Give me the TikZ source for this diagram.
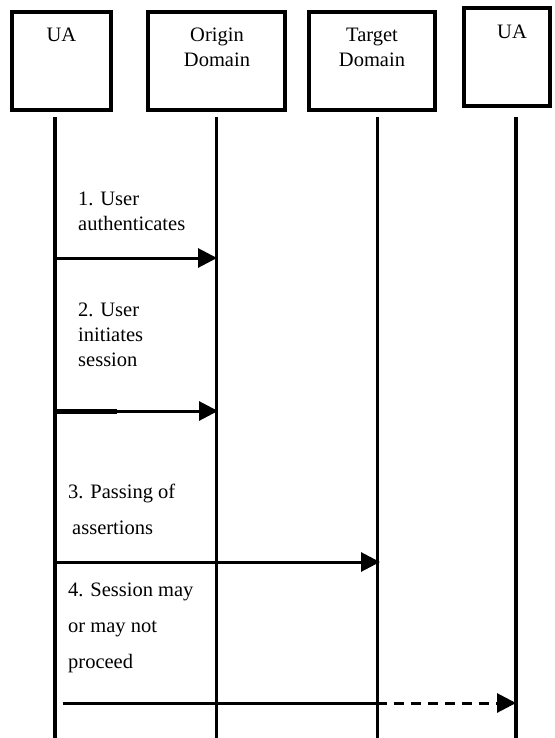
\documentclass[tikz,border=0pt]{standalone}
\usepackage{fontspec}
\setmainfont{Liberation Serif}
\usetikzlibrary{arrows.meta}
\newcommand{\fs}{\fontsize{20.5}{25}\selectfont}
\newcommand{\fw}{\fontsize{20.5}{36}\selectfont}

\begin{document}
\begin{tikzpicture}[x=1pt, y=-1pt,
    head/.style={draw, rectangle, line width=4pt, inner sep=0pt, minimum height=98pt},
    title/.style={anchor=north, align=center, inner sep=0pt, font=\fs},
    msgtext/.style={anchor=north west, align=left, inner sep=0pt, font=\fs},
    msgwide/.style={anchor=north west, align=left, inner sep=0pt, font=\fw},
    life/.style={line width=3pt},
    msg/.style={line width=3pt, -{Triangle[length=19pt, width=19pt]}}]
    \useasboundingbox (0,0) rectangle (554,738);

    % Header boxes
    \node[head, minimum width=99pt] (ua-left) at (61.5,61) {};
    \node[head, minimum width=137pt] (origin) at (216.5,61) {};
    \node[head, minimum width=126pt] (target) at (372,61) {};
    \node[head, minimum width=86pt] (ua-right) at (507,57) {};

    \node[title] (ua-left-text) at (61.5,28) {UA};
    \node[title] (origin-text) at (217,28) {Origin\\Domain};
    \node[title] (target-text) at (372,28) {Target\\Domain};
    \node[title] (ua-right-text) at (512,25) {UA};

    % Lifelines
    \coordinate (ua-left-top) at (55,117);
    \coordinate (ua-left-bot) at (55,738);
    \coordinate (origin-top) at (216,117);
    \coordinate (origin-bot) at (216,738);
    \coordinate (target-top) at (377,117);
    \coordinate (target-bot) at (377,738);
    \coordinate (ua-right-top) at (516,117);
    \coordinate (ua-right-bot) at (516,738);

    \draw[life, line width=4pt] (ua-left-top) -- (ua-left-bot);
    \draw[life] (origin-top) -- (origin-bot);
    \draw[life] (target-top) -- (target-bot);
    \draw[life, line width=4pt] (ua-right-top) -- (ua-right-bot);

    % Messages
    \coordinate (m1-from) at (55,258);
    \coordinate (m1-to) at (217,258);
    \coordinate (m2-from) at (55,411);
    \coordinate (m2-mid) at (117,411);
    \coordinate (m2-to) at (218,411);
    \coordinate (m3-from) at (55,562);
    \coordinate (m3-to) at (380,562);
    \coordinate (m4-from) at (63,703);
    \coordinate (m4-mid) at (377,703);
    \coordinate (m4-to) at (516,703);

    \node[msgtext] (m1-text) at (78,192) {1. User\\authenticates};
    \draw[msg] (m1-from) -- (m1-to);

    \node[msgtext] (m2-text) at (78,303) {2. User\\initiates\\session};
    \draw[msg] (m2-from) -- (m2-to);
    \draw[line width=5pt] (m2-from) -- (m2-mid);

    \node[msgwide] (m3-text) at (68,484) {3. Passing of\\\hspace{4pt}assertions};
    \draw[msg] (m3-from) -- (m3-to);

    \node[msgwide] (m4-text) at (68,583) {4. Session may\\or may not\\proceed};
    \draw[line width=3pt] (m4-from) -- (m4-mid);
    \draw[msg, dash pattern=on 10pt off 7pt] (m4-mid) -- (m4-to);

\end{tikzpicture}
\end{document}
